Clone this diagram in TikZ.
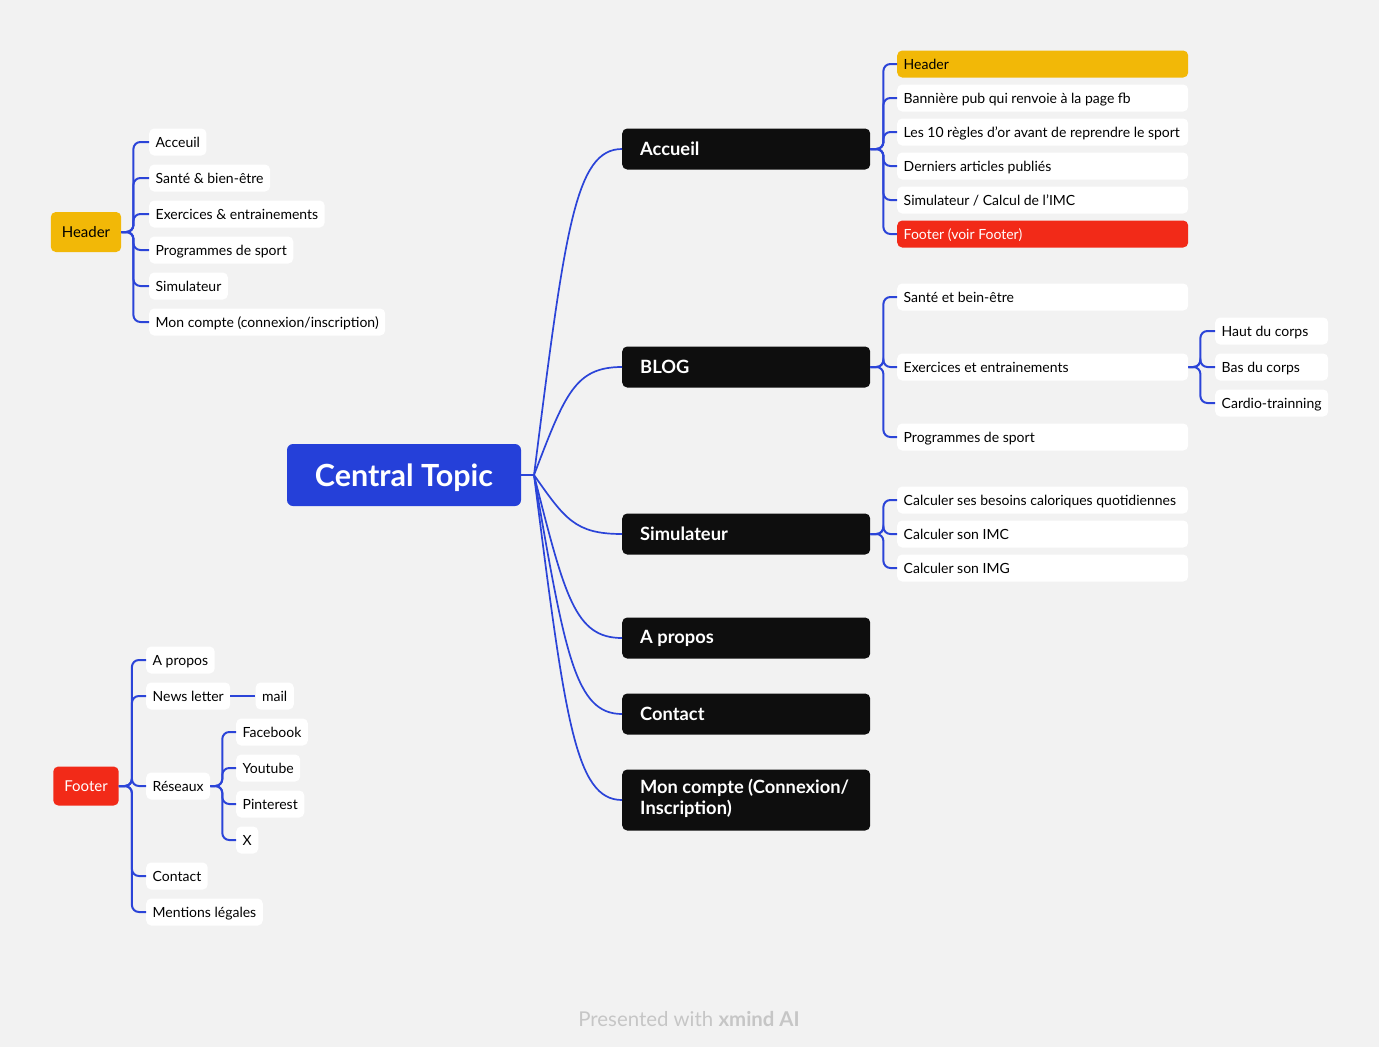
\documentclass[tikz,border=0pt]{standalone}
\usepackage{fontspec}
\setmainfont{Lato}
\usetikzlibrary{positioning}

\definecolor{paper}{HTML}{F2F2F2}
\definecolor{linkblue}{HTML}{2B44D8}
\definecolor{topicblue}{HTML}{2540D9}
\definecolor{boxblack}{HTML}{0E0E0E}
\definecolor{hdyellow}{HTML}{F2B807}
\definecolor{ftred}{HTML}{F22A18}
\definecolor{credit}{HTML}{C6C6C6}

% fixed-width, left-set label
\newcommand{\lbox}[2]{\makebox[#1][l]{#2}}

\begin{document}
\begin{tikzpicture}[x=1pt,y=-1pt,
	link/.style={draw=linkblue,line width=2pt,rounded corners=7pt},
	curve/.style={draw=linkblue,line width=1.7pt},
	central/.style={fill=topicblue,text=white,rounded corners=6pt,minimum width=234pt,
		minimum height=62pt,text height=22pt,text depth=0pt,font=\bfseries\fontsize{30.5}{36}\selectfont},
	main node/.style={anchor=west,fill=boxblack,text=white,rounded corners=5pt,
		inner xsep=18pt,minimum height=41pt,font=\bfseries\fontsize{18.3}{21}\selectfont},
	leaf/.style={anchor=west,fill=white,rounded corners=5pt,inner xsep=6.5pt,minimum height=27pt,
		text height=11.5pt,text depth=1pt,font=\fontsize{14}{16}\selectfont},
	tag/.style={fill=#1,rounded corners=5pt,minimum height=40pt,inner xsep=11pt,
		text height=12pt,text depth=1.5pt,font=\fontsize{15}{18}\selectfont}]

	\fill[paper] (0,0) rectangle (1379,1047);

	% central topic and main branches
	\node[central] (ct) at (404,475) {Central Topic};
	\coordinate (hub) at (534,475);
	\node[main node] (acc) at (622,149) {\lbox{212pt}{Accueil}};
	\node[main node] (blog) at (622,367) {\lbox{212pt}{BLOG}};
	\node[main node] (sim) at (622,534) {\lbox{212pt}{Simulateur}};
	\node[main node] (apr) at (622,638) {\lbox{212pt}{A propos}};
	\node[main node] (cont) at (622,714) {\lbox{212pt}{Contact}};
	\node[main node,minimum height=61pt] (mc) at (622,800)
		{\lbox{212pt}{\begin{tabular}{@{}l@{}}Mon compte (Connexion/\\Inscription)\end{tabular}}};

	\draw[link] (ct.east) -- (hub);
	\foreach \n/\d in {acc/-245,blog/-81,sim/44,apr/122,cont/179,mc/244}
		\draw[curve] (hub) .. controls +(31,\d) and +(-47,0) .. (\n.west);

	% Accueil
	\node[leaf,fill=hdyellow] (acc1) at (897,64) {\lbox{278pt}{Header}};
	\node[leaf] (acc2) at (897,98) {\lbox{278pt}{Bannière pub qui renvoie à la page fb}};
	\node[leaf] (acc3) at (897,132) {\lbox{278pt}{Les 10 règles d’or avant de reprendre le sport}};
	\node[leaf] (acc4) at (897,166) {\lbox{278pt}{Derniers articles publiés}};
	\node[leaf] (acc5) at (897,200) {\lbox{278pt}{Simulateur / Calcul de l’IMC}};
	\node[leaf,fill=ftred,text=white] (acc6) at (897,234) {\lbox{278pt}{Footer (voir Footer)}};
	\foreach \c in {acc1,acc2,acc3,acc4,acc5,acc6}
		\draw[link] (acc.east) -- ++(13,0) |- (\c.west);

	% BLOG
	\node[leaf] (bl1) at (897,297) {\lbox{278pt}{Santé et bein-être}};
	\node[leaf] (bl2) at (897,367) {\lbox{278pt}{Exercices et entrainements}};
	\node[leaf] (bl3) at (897,437) {\lbox{278pt}{Programmes de sport}};
	\foreach \c in {bl1,bl2,bl3}
		\draw[link] (blog.east) -- ++(13,0) |- (\c.west);
	\node[leaf] (ex1) at (1215,331) {\lbox{100pt}{Haut du corps}};
	\node[leaf] (ex2) at (1215,367) {\lbox{100pt}{Bas du corps}};
	\node[leaf] (ex3) at (1215,403) {\lbox{100pt}{Cardio-trainning}};
	\foreach \c in {ex1,ex2,ex3}
		\draw[link] (bl2.east) -- ++(12,0) |- (\c.west);

	% Simulateur
	\node[leaf] (si1) at (897,500) {\lbox{278pt}{Calculer ses besoins caloriques quotidiennes}};
	\node[leaf] (si2) at (897,534) {\lbox{278pt}{Calculer son IMC}};
	\node[leaf] (si3) at (897,568) {\lbox{278pt}{Calculer son IMG}};
	\foreach \c in {si1,si2,si3}
		\draw[link] (sim.east) -- ++(13,0) |- (\c.west);

	% Header (left)
	\node[tag=hdyellow] (hd) at (86,232) {Header};
	\node[leaf] (hd1) at (149,142) {Acceuil};
	\node[leaf] (hd2) at (149,178) {Santé \& bien-être};
	\node[leaf] (hd3) at (149,214) {Exercices \& entrainements};
	\node[leaf] (hd4) at (149,250) {Programmes de sport};
	\node[leaf] (hd5) at (149,286) {Simulateur};
	\node[leaf] (hd6) at (149,322) {Mon compte (connexion/inscription)};
	\foreach \c in {hd1,hd2,hd3,hd4,hd5,hd6}
		\draw[link] (hd.east) -- ++(12,0) |- (\c.west);

	% Footer (left)
	\node[tag=ftred,text=white,minimum height=39pt] (ft) at (86,786) {Footer};
	\node[leaf] (ft1) at (146,660) {A propos};
	\node[leaf] (ft2) at (146,696) {News letter};
	\node[leaf] (ft3) at (146,786) {Réseaux};
	\node[leaf] (ft4) at (146,876) {Contact};
	\node[leaf] (ft5) at (146,912) {Mentions légales};
	\foreach \c in {ft1,ft2,ft3,ft4,ft5}
		\draw[link] (ft.east) -- ++(13,0) |- (\c.west);
	\node[leaf] (mail) [right=25pt of ft2] {mail};
	\draw[link] (ft2.east) -- (mail.west);
	\node[leaf] (rs1) at (236,732) {Facebook};
	\node[leaf] (rs2) at (236,768) {Youtube};
	\node[leaf] (rs3) at (236,804) {Pinterest};
	\node[leaf] (rs4) at (236,840) {X};
	\foreach \c in {rs1,rs2,rs3,rs4}
		\draw[link] (ft3.east) -- ++(12,0) |- (\c.west);

	\node[text=credit,font=\fontsize{20.4}{24}\selectfont] (cred) at (689,1019)
		{Presented with \textbf{xmind AI}};
\end{tikzpicture}
\end{document}
